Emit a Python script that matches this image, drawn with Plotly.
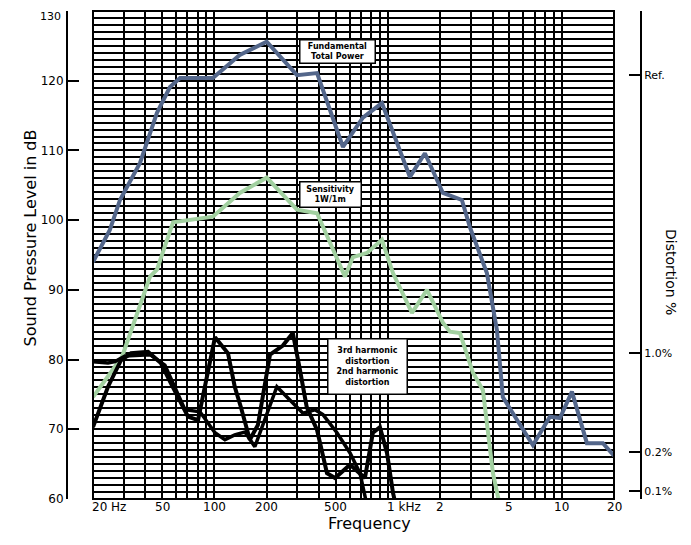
import numpy as np
import plotly.graph_objects as go

W, H = 691, 545
OFF = 8  # page body margin of the browser

# ---- data (frequency in Hz, level in dB) ----
fund_freq = [20, 25, 28.6, 37.3, 46.7, 55.5, 63.4, 98, 140, 200, 299, 390, 550, 716, 922,
             1336, 1630, 2070, 2661, 2960, 3708, 4237, 4581, 6826, 8552, 9770, 11450, 13960, 17260, 20000]
fund_db = [94.0, 98.6, 102.9, 108.2, 115.4, 119.1, 120.4, 120.4, 123.7, 125.6, 120.8, 121.1, 110.5, 114.7, 116.8,
           106.2, 109.6, 103.9, 102.9, 99.0, 92.4, 84.2, 74.6, 67.7, 71.8, 71.6, 75.4, 68.0, 68.0, 66.2]

sens_freq = [20, 29.4, 42.6, 46.7, 57.8, 69.5, 98, 140, 200, 299, 390, 565, 628, 756, 922,
             1067, 1373, 1675, 2070, 2271, 2594, 3082, 3518, 4018, 4405]
sens_db = [74.6, 80.4, 91.9, 92.9, 99.7, 100.0, 100.5, 103.9, 106.1, 101.5, 101.0, 91.9, 94.7, 95.3, 97.2,
           92.4, 86.7, 90.0, 85.3, 84.0, 83.8, 78.1, 75.6, 63.7, 59.0]

h3_freq = [20, 24.4, 29.0, 33.1, 41.5, 49.2, 56.2, 64.2, 70.5, 80.5, 100.8, 119.8, 131, 142, 160, 178,
           209, 248, 283, 311, 340, 390, 445, 495, 604, 736, 818, 898, 986, 1067, 1125]
h3_db = [70.3, 76.1, 79.9, 80.9, 81.1, 79.5, 76.6, 73.8, 71.8, 71.3, 83.2, 80.9, 76.1, 73.2, 68.5, 70.6,
         80.7, 82.0, 83.8, 78.5, 73.2, 69.9, 63.7, 63.0, 64.9, 63.0, 69.5, 70.3, 66.6, 60.9, 58.4]

h2_freq = [20, 24.4, 26.8, 30.6, 42.6, 51.9, 67.7, 82.6, 100.8, 115, 131, 150, 171, 229, 272, 324,
           379, 422, 508, 604, 689, 756]
h2_db = [79.7, 79.5, 79.7, 80.5, 80.7, 79.2, 72.8, 72.5, 69.5, 68.5, 69.2, 69.6, 67.5, 76.1, 74.2, 72.3,
         72.8, 72.1, 69.5, 66.6, 63.7, 59.1]

x_tick_vals = [20, 50, 100, 200, 500, 1000, 2000, 5000, 10000, 20000]
x_tick_text = ["20 Hz", "50", "100", "200", "500", "1 kHz", "2", "5", "10", "20"]

y_tick_vals = [60, 70, 80, 90, 100, 110, 120, 130]
y_tick_text = ["60", "70", "80", "90", "100", "110", "120", "130"]

right_tick_db = [130, 120.8, 80.9, 66.7, 61.1, 60]
right_tick_text = ["", "Ref.", "1.0%", "0.2%", "0.1%", ""]

# ---- geometry helpers (screen pixels -> paper) ----
def px(x):
    return (x - OFF) / W

def py(y):
    return 1 - (y - OFF) / H

FONT = "DejaVu Sans"
YR = [59.99, 130.01]

grid_vals = []
for dec in [10, 100, 1000, 10000]:
    for m in range(1, 10):
        v = m * dec
        if 20 <= v <= 20000:
            grid_vals.append(v)

fig = go.Figure()

fig.add_trace(go.Scatter(x=fund_freq, y=fund_db, mode="lines",
                         line=dict(color="#53668a", width=4), showlegend=False))
fig.add_trace(go.Scatter(x=sens_freq, y=sens_db, mode="lines",
                         line=dict(color="#a2d0a0", width=4), showlegend=False))
fig.add_trace(go.Scatter(x=h2_freq, y=h2_db, mode="lines",
                         line=dict(color="black", width=3.5), showlegend=False))
fig.add_trace(go.Scatter(x=h3_freq, y=h3_db, mode="lines",
                         line=dict(color="black", width=4), showlegend=False))
# invisible trace to attach right axis
fig.add_trace(go.Scatter(x=[20], y=[60], yaxis="y2", mode="markers",
                         marker=dict(opacity=0), showlegend=False, hoverinfo="skip"))

# top label drawn separately (the axis hides labels past the page edge)
top_label = y_tick_text[-1]
axis_text = y_tick_text[:-1] + [""]

fig.update_layout(
    width=W, height=H,
    margin=dict(l=0, r=0, t=0, b=0, autoexpand=False),
    paper_bgcolor="white", plot_bgcolor="white",
    font=dict(family=FONT, color="black", size=12),
    xaxis=dict(type="log", range=[np.log10(20), np.log10(20000)],
               domain=[px(93), px(614)], automargin=False,
               tickvals=grid_vals, ticktext=[""] * len(grid_vals),
               showgrid=True, gridcolor="black", gridwidth=2,
               ticks="", showline=False, zeroline=False),
    yaxis=dict(range=YR, domain=[py(499), py(11)], automargin=False,
               anchor="free", position=px(67),
               tickvals=y_tick_vals, ticktext=axis_text,
               ticks="inside", ticklen=11, tickwidth=2, tickcolor="black",
               showline=True, linewidth=2, linecolor="black",
               showgrid=True, gridcolor="black", gridwidth=2, zeroline=False,
               minor=dict(dtick=1, tick0=60, showgrid=True, gridcolor="black", gridwidth=1.6, ticks=""),
               tickfont=dict(size=12, family=FONT, color="black")),
    yaxis2=dict(range=YR, overlaying="y", anchor="free", position=px(641), side="right",
                automargin=False,
                tickvals=right_tick_db, ticktext=right_tick_text,
                ticks="inside", ticklen=11, tickwidth=2, tickcolor="black",
                showline=True, linewidth=2, linecolor="black", showgrid=False, zeroline=False,
                tickfont=dict(size=11, family=FONT, color="black")),
)

fig.add_annotation(x=px(63), y=py(8.5), xref="paper", yref="paper", text=top_label,
                   showarrow=False, xanchor="right", yanchor="top",
                   font=dict(size=11, family=FONT, color="black"))

# frame
fig.add_shape(type="rect", xref="x domain", yref="y domain", x0=0, x1=1, y0=0, y1=1,
              line=dict(color="black", width=2))

# x tick labels
for v, t in zip(x_tick_vals, x_tick_text):
    left = t in ("20 Hz", "1 kHz")
    fig.add_annotation(x=np.log10(v), y=py(516), xref="x", yref="paper",
                       text=t, showarrow=False, xanchor="left" if left else "center",
                       xshift=-3 if left else 0,
                       font=dict(size=12, family=FONT, color="black"))

# axis titles
fig.add_annotation(x=px(369), y=py(535), xref="paper", yref="paper", text="Frequency",
                   showarrow=False, font=dict(size=16, family=FONT, color="black"))
fig.add_annotation(x=px(18), y=py(238), xref="paper", yref="paper",
                   text="Sound Pressure Level in dB", textangle=-90,
                   showarrow=False, font=dict(size=16, family=FONT, color="black"))
fig.add_annotation(x=px(681), y=py(272), xref="paper", yref="paper",
                   text="Distortion %", textangle=90,
                   showarrow=False, font=dict(size=14, family=FONT, color="black"))

# curve labels
def box(xc, yc, text, w, h):
    fig.add_annotation(x=px(xc), y=py(yc), xref="paper", yref="paper", text=text,
                       showarrow=False, bgcolor="white", bordercolor="black", borderwidth=1.5,
                       borderpad=1, width=w, height=h, align="center",
                       font=dict(size=8, family=FONT, color="black"))

box(337, 39, "<b>Fundamental</b><br><b>Total Power</b>", 72, 20)
box(330, 181, "<b>Sensitivity</b><br><b>1W/1m</b>", 58, 22)
box(367, 366, "<b>3rd harmonic</b><br><b>distortion</b><br><b>2nd harmonic</b><br><b>distortion</b>", 76, 52)

fig.write_html("out.html")
